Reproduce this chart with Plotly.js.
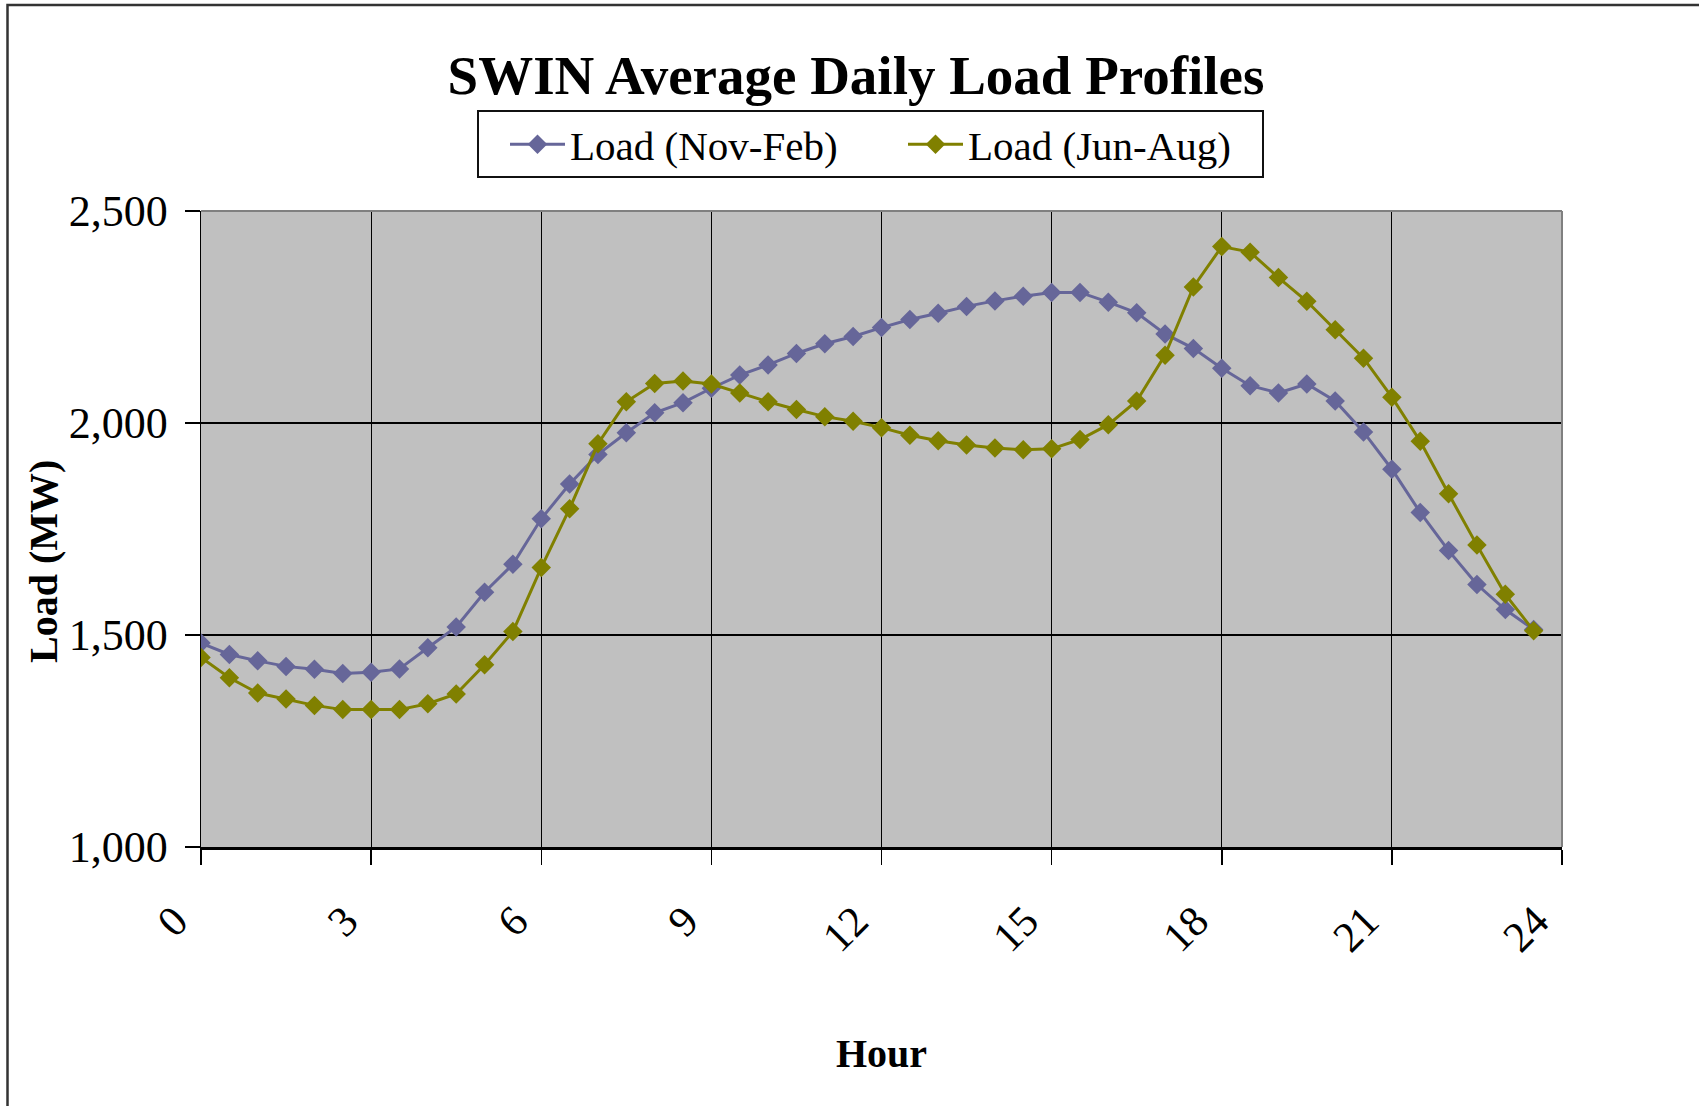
<!DOCTYPE html>
<html>
<head>
<meta charset="utf-8">
<script src="https://cdn.plot.ly/plotly-3.0.1.min.js"></script>
<style>
  html, body { margin: 0; padding: 0; background: #ffffff; }
  #chart { width: 1699px; height: 1106px; }
</style>
</head>
<body>
<div id="chart"></div>
<script>
// ---- data ----
const hours = [0, 0.5, 1, 1.5, 2, 2.5, 3, 3.5, 4, 4.5, 5, 5.5, 6, 6.5, 7, 7.5,
  8, 8.5, 9, 9.5, 10, 10.5, 11, 11.5, 12, 12.5, 13, 13.5, 14, 14.5, 15, 15.5,
  16, 16.5, 17, 17.5, 18, 18.5, 19, 19.5, 20, 20.5, 21, 21.5, 22, 22.5, 23, 23.5];

const loadNovFeb = [1481, 1454, 1439, 1426, 1419, 1409, 1412, 1420, 1470, 1519,
  1601, 1667, 1774, 1856, 1926, 1977, 2024, 2048, 2082, 2113, 2137, 2164, 2187,
  2204, 2225, 2244, 2259, 2275, 2288, 2299, 2308, 2308, 2285, 2260, 2210, 2176,
  2129, 2088, 2071, 2092, 2052, 1979, 1891, 1789, 1699, 1619, 1560, 1513];

const loadJunAug = [1447, 1399, 1363, 1349, 1334, 1324, 1324, 1324, 1338, 1361,
  1430, 1508, 1659, 1798, 1951, 2050, 2093, 2099, 2092, 2071, 2050, 2032, 2015,
  2004, 1989, 1971, 1958, 1948, 1941, 1937, 1939, 1961, 1996, 2052, 2160, 2321,
  2416, 2403, 2343, 2287, 2220, 2153, 2061, 1957, 1833, 1712, 1596, 1510];

const seriesNames = ["Load (Nov-Feb)", "Load (Jun-Aug)"];
const xTickVals = [0, 3, 6, 9, 12, 15, 18, 21, 24];
const yTickVals = [1000, 1500, 2000, 2500];
const chartTitle = "SWIN Average Daily Load Profiles";
const xTitle = "Hour";
const yTitle = "Load (MW)";

// ---- styling ----
const serif = "Liberation Serif, Times New Roman, serif";
const W = 1699, H = 1106;
const M = { l: 201, r: 137, t: 211, b: 259 };
const pw = W - M.l - M.r, ph = H - M.t - M.b;
const px2x = p => (p - M.l) / pw;
const py2y = p => (H - M.b - p) / ph;

const traces = [
  {
    x: hours, y: loadNovFeb, name: seriesNames[0], type: "scatter", mode: "lines+markers",
    line: { color: "#666699", width: 3 },
    marker: { symbol: "diamond", size: 15, color: "#666699" }
  },
  {
    x: hours, y: loadJunAug, name: seriesNames[1], type: "scatter", mode: "lines+markers",
    line: { color: "#808000", width: 3 },
    marker: { symbol: "diamond", size: 15, color: "#808000" }
  }
];

const layout = {
  width: W, height: H,
  margin: M,
  paper_bgcolor: "#ffffff",
  plot_bgcolor: "#c0c0c0",
  font: { family: serif, color: "#000000", size: 40 },
  title: {
    text: chartTitle,
    font: { family: serif, size: 55, weight: "bold", color: "#000000" },
    x: 856 / W, xref: "container", xanchor: "center",
    y: 1 - 75 / H, yref: "container", yanchor: "middle"
  },
  showlegend: true,
  legend: {
    orientation: "h",
    x: px2x(505), xanchor: "left",
    y: py2y(111), yanchor: "top",
    bgcolor: "rgba(0,0,0,0)",
    borderwidth: 0,
    font: { family: serif, size: 41, color: "#000000" },
    entrywidth: 328, entrywidthmode: "pixels",
    itemwidth: 55
  },
  xaxis: {
    range: [0, 24],
    tickvals: xTickVals,
    ticktext: xTickVals.map(String),
    tickangle: -45,
    ticks: "outside", ticklen: 15, tickwidth: 1.5, tickcolor: "#000000",
    tickfont: { family: serif, size: 43, color: "#000000" },
    ticklabelstandoff: 14,
    ticklabelshift: -26,
    showgrid: true, gridcolor: "#000000", gridwidth: 1.2,
    showline: true, linecolor: "#000000", linewidth: 2.5,
    zeroline: false,
    fixedrange: true,
    title: {
      text: xTitle,
      font: { family: serif, size: 40, weight: "bold", color: "#000000" },
      standoff: 80
    }
  },
  yaxis: {
    range: [1000, 2500],
    tickvals: yTickVals,
    tickformat: ",",
    ticks: "outside", ticklen: 15, tickwidth: 1.5, tickcolor: "#000000",
    tickfont: { family: serif, size: 44, color: "#000000" },
    ticklabelstandoff: 8,
    showgrid: true, gridcolor: "#000000", gridwidth: 1.2,
    showline: true, linecolor: "#000000", linewidth: 1.5,
    zeroline: false,
    fixedrange: true
  },
  annotations: [
    { text: yTitle, textangle: -90, showarrow: false,
      xref: "paper", yref: "paper", x: px2x(43), y: py2y(562),
      xanchor: "center", yanchor: "middle",
      font: { family: serif, size: 40, weight: "bold", color: "#000000" } }
  ],
  shapes: [
    // outer chart frame (left and top edges visible)
    { type: "rect", xref: "paper", yref: "paper",
      x0: px2x(7.5), x1: px2x(1720), y0: py2y(1130), y1: py2y(5),
      line: { color: "#333333", width: 2.5 }, fillcolor: "rgba(0,0,0,0)", layer: "above" },
    // legend box
    { type: "rect", xref: "paper", yref: "paper",
      x0: px2x(478), x1: px2x(1263), y0: py2y(177), y1: py2y(111),
      line: { color: "#111111", width: 2 }, fillcolor: "#ffffff", layer: "above" },
    // grey plot-area border on top and right
    { type: "line", xref: "paper", yref: "paper", x0: 0, x1: 1, y0: 1, y1: 1,
      line: { color: "#808080", width: 2 }, layer: "above" },
    { type: "line", xref: "paper", yref: "paper", x0: 1, x1: 1, y0: 0, y1: 1,
      line: { color: "#808080", width: 2 }, layer: "above" }
  ]
};

Plotly.newPlot("chart", traces, layout, { displayModeBar: false, staticPlot: true });
</script>
</body>
</html>
